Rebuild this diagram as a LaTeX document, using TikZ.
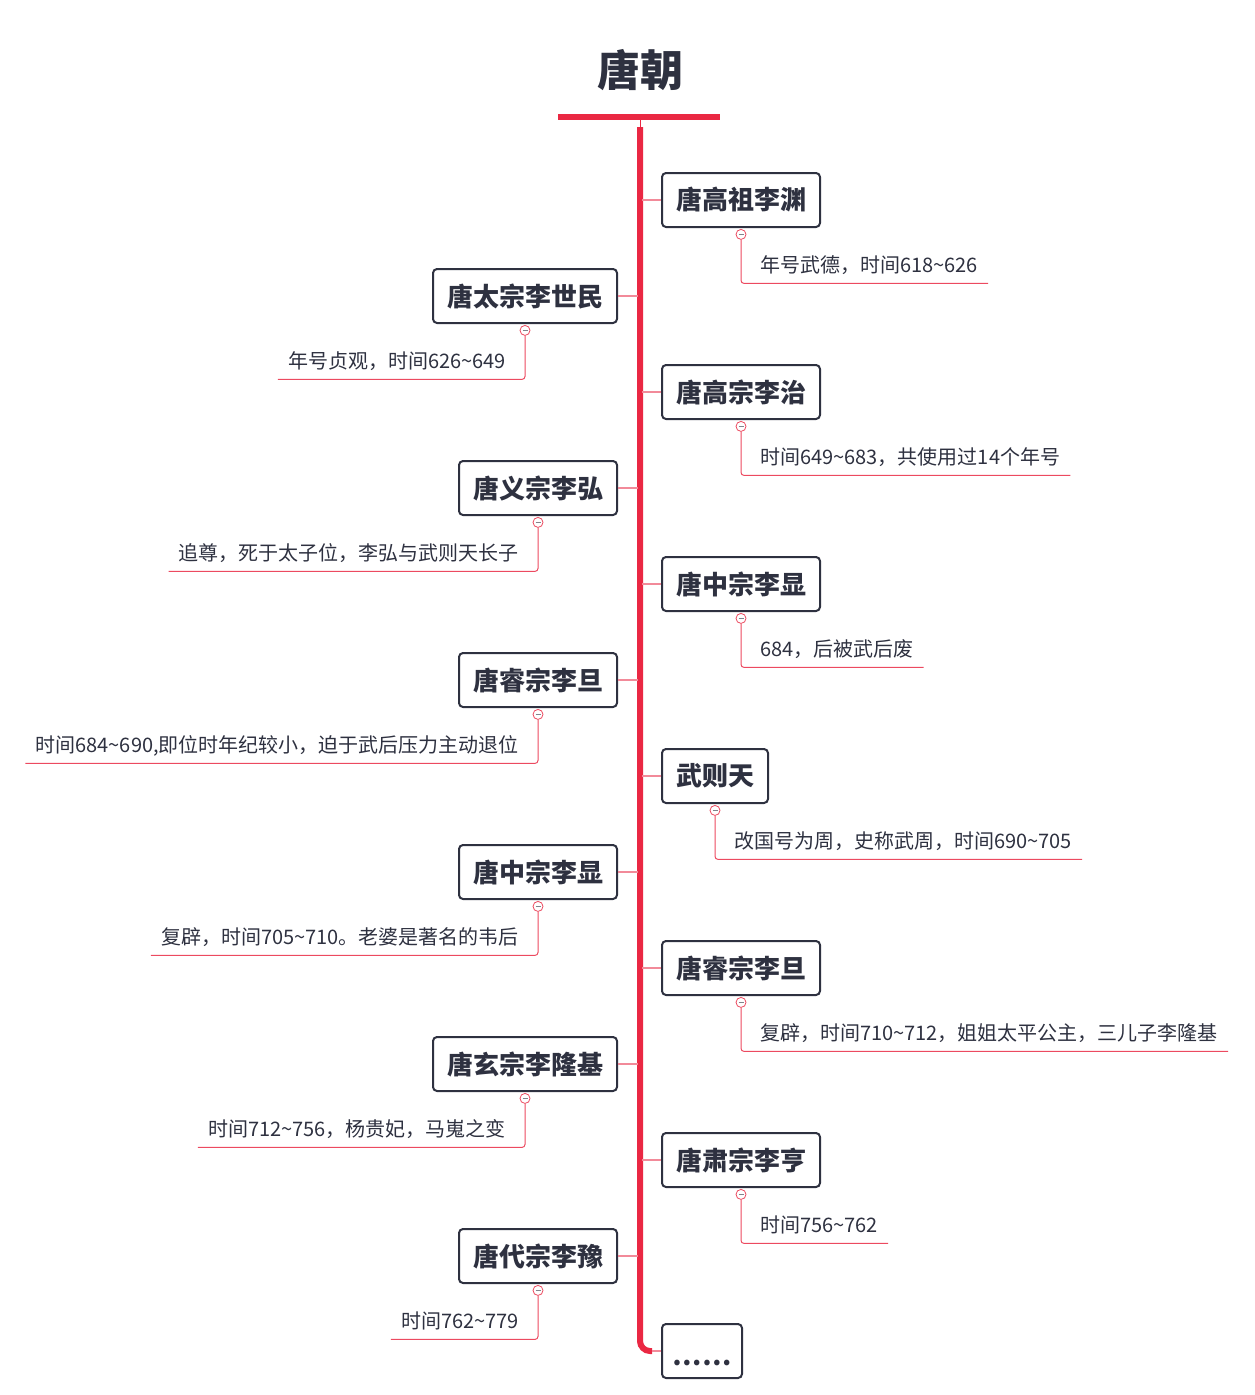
\documentclass[tikz,border=0pt]{standalone}
\usepackage{fontspec}
\setmainfont{Noto Sans CJK SC}
\usetikzlibrary{positioning}
\definecolor{tangred}{HTML}{EA2843}
\definecolor{stubpink}{HTML}{F28A99}
\definecolor{linered}{HTML}{EC4A60}
\definecolor{inkgray}{HTML}{2E3140}

\begin{document}
\begin{tikzpicture}[x=1pt, y=-1pt,
        kingnode/.style={rectangle, rounded corners=4pt, draw=inkgray, line width=2pt, fill=white, text=inkgray, font=\fontsize{26}{30}\selectfont\bfseries, minimum height=54pt, inner xsep=14pt},
        notenode/.style={text=inkgray, font=\fontsize{20}{24}\selectfont, inner xsep=10pt, inner ysep=7pt, text height=15pt, text depth=4pt},
        dotnode/.style={circle, draw=linered, fill=white, line width=0.8pt, minimum size=10pt, inner sep=0pt, path picture={\draw[inkgray!60, line width=0.8pt] ([xshift=-2.5pt]path picture bounding box.center) -- ([xshift=2.5pt]path picture bounding box.center);}},
        stub/.style={stubpink, line width=2pt},
        noteline/.style={linered, line width=1pt, rounded corners=3pt}]

        \useasboundingbox (0,0) rectangle (1255,1395);

        % title and spine
        \node[text=inkgray, font=\fontsize{43}{50}\selectfont\bfseries] (title) at (640,70) {唐朝};
        \draw[tangred, line width=6pt] (558,117) -- (720,117);
        \draw[tangred, line width=1pt] (640,117) -- (640,127);
        \draw[tangred, line width=6pt, rounded corners=10pt] (640,127) |- (652,1351);

        % right side
        \node[kingnode, anchor=west] (r1) at (661,200) {唐高祖李渊};
        \node[kingnode, anchor=west] (r2) at (661,392) {唐高宗李治};
        \node[kingnode, anchor=west] (r3) at (661,584) {唐中宗李显};
        \node[kingnode, anchor=west] (r4) at (661,776) {武则天};
        \node[kingnode, anchor=west] (r5) at (661,968) {唐睿宗李旦};
        \node[kingnode, anchor=west] (r6) at (661,1160) {唐肃宗李亨};
        \node[kingnode, anchor=west, inner xsep=0pt, minimum width=80pt, text height=14pt, text depth=0pt] (r7) at (661,1351) {\raisebox{-7pt}{……}};

        % left side
        \node[kingnode, anchor=east] (l1) at (618,296) {唐太宗李世民};
        \node[kingnode, anchor=east] (l2) at (618,488) {唐义宗李弘};
        \node[kingnode, anchor=east] (l3) at (618,680) {唐睿宗李旦};
        \node[kingnode, anchor=east] (l4) at (618,872) {唐中宗李显};
        \node[kingnode, anchor=east] (l5) at (618,1064) {唐玄宗李隆基};
        \node[kingnode, anchor=east] (l6) at (618,1256) {唐代宗李豫};

        % branches off the spine
        \foreach \n in {r1,r2,r3,r4,r5,r6}
            \draw[stub] (642,0 |- \n.west) -- (\n.west);
        \draw[stub] (652,1351) -- (r7.west);
        \foreach \n in {l1,l2,l3,l4,l5,l6}
            \draw[stub] (638,0 |- \n.east) -- (\n.east);

        % notes on the right
        \foreach \n/\txt in {r1/{年号武德，时间618\textasciitilde626},
                             r2/{时间649\textasciitilde683，共使用过14个年号},
                             r3/{684，后被武后废},
                             r4/{改国号为周，史称武周，时间690\textasciitilde705},
                             r5/{复辟，时间710\textasciitilde712，姐姐太平公主，三儿子李隆基},
                             r6/{时间756\textasciitilde762}} {
            \node[dotnode, below=1pt of \n.south] (d\n) {};
            \node[notenode, anchor=south west] (t\n) at ([shift={(9,49)}]d\n.center) {\txt};
            \draw[noteline] (d\n.south) |- (t\n.south east);
        }

        % notes on the left
        \foreach \n/\txt in {l1/{年号贞观，时间626\textasciitilde649},
                             l2/{追尊，死于太子位，李弘与武则天长子},
                             l3/{时间684\textasciitilde690,即位时年纪较小，迫于武后压力主动退位},
                             l4/{复辟，时间705\textasciitilde710。老婆是著名的韦后},
                             l5/{时间712\textasciitilde756，杨贵妃，马嵬之变},
                             l6/{时间762\textasciitilde779}} {
            \node[dotnode, below=1pt of \n.south] (d\n) {};
            \node[notenode, anchor=south east] (t\n) at ([shift={(-9,49)}]d\n.center) {\txt};
            \draw[noteline] (d\n.south) |- (t\n.south west);
        }

\end{tikzpicture}
\end{document}
